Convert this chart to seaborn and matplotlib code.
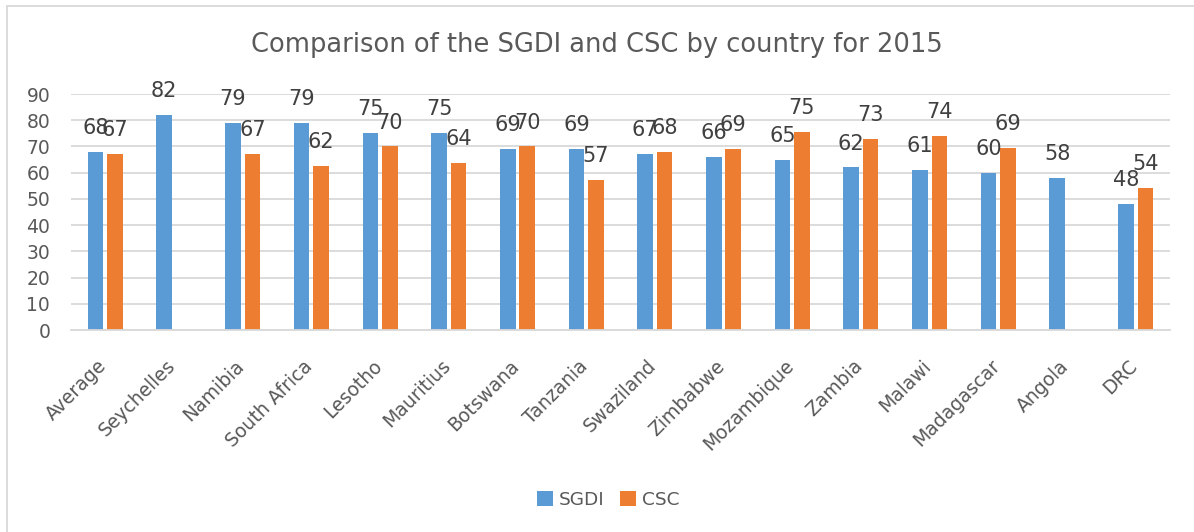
import numpy as np
import pandas as pd
import matplotlib
matplotlib.use("Agg")
import matplotlib.pyplot as plt
import matplotlib.transforms as mtransforms
import seaborn as sns
from matplotlib.lines import Line2D

countries = ["Average", "Seychelles", "Namibia", "South Africa", "Lesotho", "Mauritius",
             "Botswana", "Tanzania", "Swaziland", "Zimbabwe", "Mozambique", "Zambia",
             "Malawi", "Madagascar", "Angola", "DRC"]
sgdi = [68, 82, 79, 79, 75, 75, 69, 69, 67, 66, 65, 62, 61, 60, 58, 48]
csc = [67, np.nan, 67, 62.4, 70, 63.6, 70, 57.3, 68, 69, 75.4, 73, 74, 69.3, np.nan, 54.3]
series = ["SGDI", "CSC"]
colors = ["#5B9BD5", "#ED7D31"]
yticks = list(range(0, 100, 10))
title = "Comparison of the SGDI and CSC by country for 2015"

df = pd.DataFrame({
    "country": countries * 2,
    "value": sgdi + csc,
    "series": ["SGDI"] * len(countries) + ["CSC"] * len(countries),
})

sns.set_theme(style="white")
plt.rcParams["font.family"] = ["DejaVu Sans"]

fig = plt.figure(figsize=(11.94, 5.32), dpi=100)
ax = fig.add_axes([71 / 1194, 1 - 330 / 532, (1170 - 71) / 1194, (330 - 94) / 532])

sns.barplot(data=df, x="country", y="value", hue="series", hue_order=series,
            order=countries, palette=colors, saturation=1, width=0.568, gap=0.2,
            linewidth=0, ax=ax, legend=True)

handles, labels = ax.get_legend_handles_labels()
ax.get_legend().remove()

for cont in ax.containers:
    ax.bar_label(cont, fmt="%.0f", padding=10, fontsize=15, color="#404040")

ax.set_xlim(-0.5, len(countries) - 0.5)
ax.set_ylim(0, 90)
ax.set_yticks(yticks)
ax.yaxis.grid(True, color="#D9D9D9", linewidth=1.3)
ax.set_axisbelow(True)
for s in ["top", "right", "left"]:
    ax.spines[s].set_visible(False)
ax.spines["bottom"].set_color("#D9D9D9")
ax.spines["bottom"].set_linewidth(1.3)
ax.set_xlabel("")
ax.set_ylabel("")
ax.tick_params(axis="y", length=0, pad=15, labelsize=13.5, labelcolor="#595959")
ax.tick_params(axis="x", length=0, pad=19, labelsize=13.5, labelcolor="#595959")
shift = mtransforms.ScaledTranslation(-8 / 100, 0, fig.dpi_scale_trans)
for lab in ax.get_xticklabels():
    lab.set_rotation(45)
    lab.set_ha("right")
    lab.set_va("top")
    lab.set_rotation_mode("anchor")
    lab.set_transform(lab.get_transform() + shift)

fig.suptitle(title, y=1 - 45 / 532, va="center", fontsize=18.5, color="#595959")

fig.legend(handles, labels, loc="center", bbox_to_anchor=(608 / 1194, 1 - 500 / 532), ncol=2,
           frameon=False, fontsize=13.3, labelcolor="#595959", handlelength=0.9,
           handleheight=0.9, handletextpad=0.3, columnspacing=0.8)

fig.add_artist(Line2D([7 / 1194, 1], [1 - 6 / 532, 1 - 6 / 532], transform=fig.transFigure,
                      color="#D9D9D9", linewidth=1.3))
fig.add_artist(Line2D([7 / 1194, 7 / 1194], [0, 1 - 6 / 532], transform=fig.transFigure,
                      color="#D9D9D9", linewidth=1.3))

fig.savefig("out.png", dpi=100, facecolor="white")
